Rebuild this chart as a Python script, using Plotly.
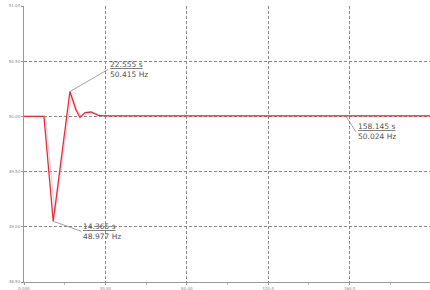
import plotly.graph_objects as go

# data
time_s = [0, 9.8, 14.365, 22.555, 25.5, 27.5, 30, 33, 36.5, 40, 200]
freq_hz = [50.0, 50.0, 49.05, 50.225, 50.06, 49.99, 50.035, 50.04, 50.01, 50.005, 50.005]
time_b = [0, 10.5, 15.2, 23.3, 26.3, 28.3, 31, 34, 37.5, 41, 200]
freq_b = [50.0, 50.0, 49.12, 50.2, 50.05, 49.995, 50.03, 50.035, 50.012, 50.008, 50.008]
x_ticks = [0, 40, 80, 120, 160, 200]
x_labels = ["0.000", "40.00", "80.00", "120.0", "160.0", "200.0"]
y_ticks = [48.5, 49.0, 49.5, 50.0, 50.5, 51.0]
y_labels = ["48.50", "49.00", "49.50", "50.00", "50.50", "51.00"]
marks = [(22.555, 50.225, "22.555 s", "50.415 Hz"),
         (14.365, 49.05, "14.365 s", "48.977 Hz"),
         (158.145, 50.005, "158.145 s", "50.024 Hz")]
offsets = [(38, -22), (28, 10), (10, 16)]

fig = go.Figure()
fig.add_trace(go.Scatter(x=time_b, y=freq_b, mode="lines",
                         line=dict(color="rgba(240,150,170,0.5)", width=1.2)))
fig.add_trace(go.Scatter(x=time_s, y=freq_hz, mode="lines",
                         line=dict(color="#e0303c", width=1.3)))

for (t, f, l1, l2), (ax, ay) in zip(marks, offsets):
    fig.add_annotation(x=t, y=f, text=f"<u>{l1}</u><br>{l2}", showarrow=True,
                       arrowhead=0, arrowwidth=0.6, arrowcolor="#666", standoff=0,
                       ax=ax, ay=ay, xanchor="left", yanchor="middle",
                       font=dict(size=7.5, color="#555", family="DejaVu Sans"),
                       align="left")

axis_common = dict(showline=True, linecolor="#999", linewidth=1, automargin=False,
                   showgrid=True, gridcolor="#8a8a8a", griddash="3px,2px", gridwidth=0.8,
                   zeroline=False, ticks="outside", ticklen=2, tickcolor="#999",
                   tickfont=dict(size=4, color="#888", family="DejaVu Sans"),
                   minor=dict(ticks="outside", ticklen=2, tickcolor="#bbb", nticks=2, showgrid=False))

fig.update_xaxes(range=[0, 199.5], tickvals=x_ticks, ticktext=x_labels, **axis_common)
fig.update_yaxes(range=[48.5, 51.0], tickvals=y_ticks, ticktext=y_labels, **axis_common)

fig.update_layout(width=430, height=290, showlegend=False,
                  margin=dict(l=24, r=0, t=6, b=8),
                  plot_bgcolor="white", paper_bgcolor="white")
fig.write_html("out.html", config={"displayModeBar": False},
               post_script="document.body.style.margin='0';document.body.style.overflow='hidden';")
